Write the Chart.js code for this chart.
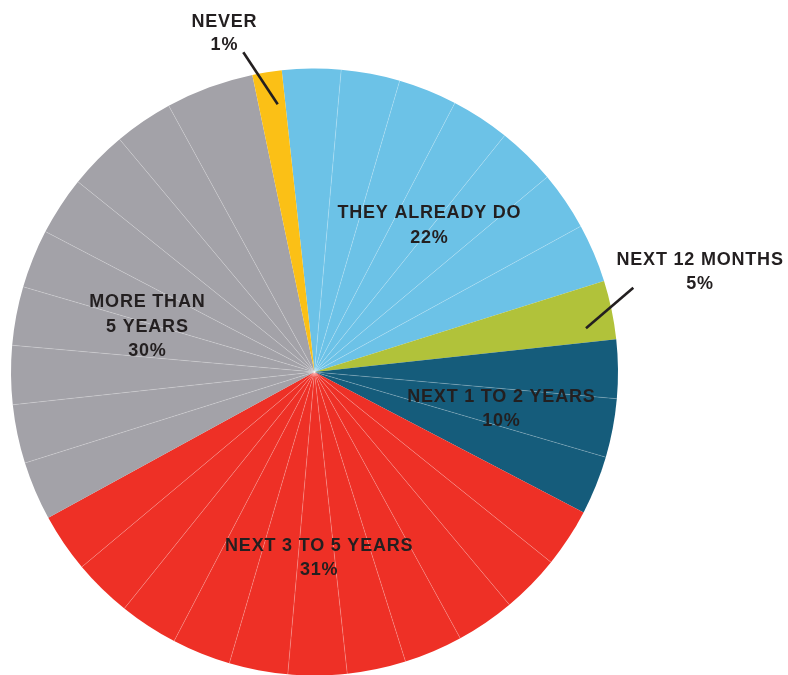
<!DOCTYPE html>
<html>
<head>
<meta charset="utf-8">
<script src="https://cdn.jsdelivr.net/npm/chart.js@4/dist/chart.umd.min.js"></script>
<style>
  html, body { margin: 0; padding: 0; background: #fff; overflow: hidden; }
  canvas { display: block; }
</style>
</head>
<body>
<canvas id="timing" width="788" height="675" style="width:788px;height:675px"></canvas>
<script>
// categories, clockwise from the top
var categories = [["THEY ALREADY DO"], ["NEXT 12 MONTHS"], ["NEXT 1 TO 2 YEARS"],
                  ["NEXT 3 TO 5 YEARS"], ["MORE THAN", "5 YEARS"], ["NEVER"]];
var printedPct = [22, 5, 10, 31, 30, 1];
// wedge sizes as drawn, in 1/32 of a turn (each thin ray marks one piece)
var pieces = [
  [1, 1, 1, 1, 1, 1, 1],
  [1],
  [1, 1, 1],
  [1, 1, 1, 1, 1, 1, 1, 1, 1, 1, 1],
  [1, 1, 1, 1, 1, 1, 1, 1, 1.5],
  [0.5]
];
var sliceColors = ["#6cc2e7", "#b1c23a", "#155c7b", "#ee3026", "#a3a2a8", "#fbc016"];

// label placement relative to the pie centre (first baseline), and leader lines
var labelAt = [[114.5, -153.7], [385.2, -107], [186.5, 29.7], [4.3, 179], [-167.5, -64.7], [-90.5, -345]];
var leaders = { 1: [318.8, -84.3, 271.5, -43.7], 5: [-71.2, -319.7, -36.8, -267.7] };

var values = [], colors = [], owner = [], firstOf = [];
pieces.forEach(function (p, c) {
  p.forEach(function (v, k) {
    values.push(v);
    colors.push(sliceColors[c]);
    owner.push(c);
    firstOf.push(k === 0);
  });
});

var rays = {
  id: "rays",
  afterDatasetsDraw: function (chart) {
    var ctx = chart.ctx;
    var arcs = chart.getDatasetMeta(0).data;
    ctx.save();
    ctx.strokeStyle = "rgba(255,255,255,0.3)";
    ctx.lineWidth = 0.7;
    arcs.forEach(function (a, i) {
      if (firstOf[i]) return;
      var p = a.getProps(["x", "y", "startAngle", "outerRadius"], true);
      ctx.beginPath();
      ctx.moveTo(p.x, p.y);
      ctx.lineTo(p.x + p.outerRadius * Math.cos(p.startAngle), p.y + p.outerRadius * Math.sin(p.startAngle));
      ctx.stroke();
    });
    ctx.restore();
  }
};

var labels = {
  id: "labels",
  afterDraw: function (chart) {
    var ctx = chart.ctx;
    var a0 = chart.getDatasetMeta(0).data[0];
    var cx = a0.x, cy = a0.y;
    ctx.save();
    ctx.fillStyle = "#231f20";
    ctx.strokeStyle = "#231f20";
    ctx.font = 'bold 18px "Liberation Sans", Arial, sans-serif';
    ctx.letterSpacing = "0.8px";
    ctx.textAlign = "center";
    ctx.textBaseline = "alphabetic";
    categories.forEach(function (lines, c) {
      var all = lines.concat([printedPct[c] + "%"]);
      var lh = c === 5 ? 23 : 24.2;
      all.forEach(function (t, j) {
        ctx.fillText(t, cx + labelAt[c][0] + 0.4, cy + labelAt[c][1] + j * lh);
      });
    });
    ctx.lineWidth = 2.6;
    Object.keys(leaders).forEach(function (k) {
      var l = leaders[k];
      ctx.beginPath();
      ctx.moveTo(cx + l[0], cy + l[1]);
      ctx.lineTo(cx + l[2], cy + l[3]);
      ctx.stroke();
    });
    ctx.restore();
  }
};

new Chart("timing", {
  type: "pie",
  data: {
    labels: owner.map(function (c) { return categories[c].join(" "); }),
    datasets: [{
      data: values,
      backgroundColor: colors,
      borderWidth: 0
    }]
  },
  options: {
    responsive: false,
    devicePixelRatio: 1,
    animation: false,
    rotation: -6.2,
    radius: 303.5,
    layout: { padding: { left: 10, right: 169, top: 69, bottom: 0 } },
    plugins: {
      legend: { display: false },
      tooltip: { enabled: false }
    }
  },
  plugins: [rays, labels]
});
</script>
</body>
</html>
